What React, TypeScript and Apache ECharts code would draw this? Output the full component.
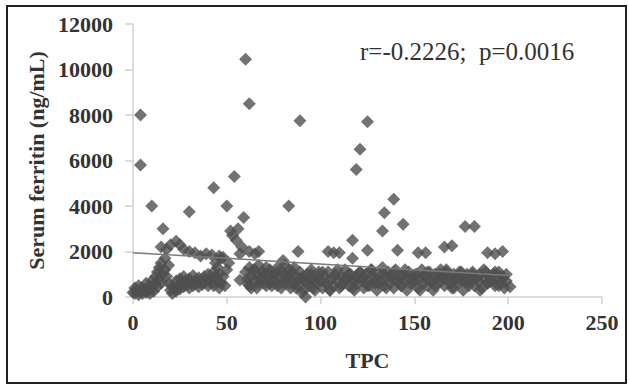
import React, { useEffect, useRef } from "react";
import * as echarts from "echarts";

// Outliers and upper-band points (TPC, ferritin)
const highTPC = [4, 4, 10, 16, 15, 18, 20, 23, 25, 27, 30, 30, 33, 36, 39, 43, 42, 46, 48, 50, 54, 52, 53, 55, 56, 58, 59, 57, 60, 62, 62, 65, 67, 83, 89, 88, 80, 104, 107, 110, 117, 119, 121, 125, 117, 125, 133, 134, 139, 144, 141, 152, 156, 166, 170, 177, 182, 189, 193, 197];
const highFerritin = [8000, 5800, 4000, 3000, 2200, 2100, 2300, 2450, 2300, 2100, 3750, 2000, 1950, 1800, 1900, 4800, 1850, 1800, 1750, 4000, 5300, 2900, 2700, 2500, 3000, 2200, 3500, 1900, 10450, 8500, 2000, 1900, 2000, 4000, 7750, 2000, 1600, 2000, 1950, 1950, 2500, 5600, 6500, 7700, 1700, 2050, 2900, 3700, 4300, 3200, 2050, 1950, 1950, 2200, 2250, 3100, 3100, 1950, 1900, 2000];

// Dense band, TPC 0-60
const lowTPC1 = [0, 1, 1, 2, 3, 3, 4, 5, 5, 6, 7, 7, 8, 9, 9, 10, 10, 11, 12, 12, 13, 13, 14, 14, 15, 15, 16, 17, 17, 18, 19, 19, 20, 21, 21, 22, 23, 23, 24, 25, 25, 26, 27, 27, 28, 29, 30, 30, 31, 32, 32, 33, 34, 35, 35, 36, 37, 38, 38, 39, 40, 40, 41, 42, 43, 43, 44, 44, 45, 45, 46, 46, 47, 47, 48, 49, 50, 51, 57];
const lowFerritin1 = [200, 400, 150, 300, 100, 500, 250, 150, 400, 350, 200, 600, 300, 150, 500, 400, 700, 250, 600, 900, 450, 1100, 800, 1300, 600, 1500, 1000, 1700, 1200, 900, 1400, 600, 300, 150, 500, 400, 250, 700, 500, 350, 800, 600, 450, 900, 700, 550, 800, 400, 650, 950, 500, 700, 600, 850, 450, 700, 550, 900, 650, 750, 500, 1000, 800, 650, 1100, 500, 900, 1500, 700, 1300, 1000, 400, 1700, 600, 900, 500, 1200, 1500, 750];

// Dense band, TPC 60-100
const lowTPC2 = [60, 61, 62, 62, 63, 64, 65, 66, 66, 67, 68, 69, 70, 70, 71, 72, 73, 73, 74, 75, 76, 77, 77, 78, 79, 80, 81, 81, 82, 83, 84, 84, 85, 86, 86, 87, 88, 89, 90, 90, 91, 92, 92, 93, 94, 95, 95, 96, 97, 98, 99];
const lowFerritin2 = [1100, 600, 1300, 500, 900, 1200, 700, 1000, 400, 1400, 800, 1100, 600, 1000, 1300, 900, 1200, 600, 500, 1000, 700, 1300, 500, 900, 1100, 600, 1400, 700, 800, 1200, 1000, 400, 700, 1300, 600, 900, 500, 1100, 800, 200, 300, 700, 0, 1000, 500, 800, 1200, 400, 700, 600, 900];
const lowTPC4 = [61, 63, 65, 67, 69, 71, 73, 75, 77, 79, 81, 83, 85, 87, 89, 91, 93, 95, 97, 99];
const lowFerritin4 = [800, 400, 1200, 600, 900, 500, 1000, 800, 1100, 400, 1000, 600, 1100, 400, 800, 900, 600, 1000, 300, 1100];

// Dense band, TPC 100-200
const lowTPC3 = [100, 101, 102, 103, 104, 105, 106, 107, 108, 109, 110, 111, 112, 113, 114, 115, 116, 117, 118, 119, 120, 121, 122, 123, 124, 125, 126, 127, 128, 129, 130, 131, 132, 133, 134, 135, 136, 137, 138, 139, 140, 141, 142, 143, 144, 145, 146, 147, 148, 149, 150, 151, 152, 153, 154, 155, 156, 157, 158, 159, 160, 161, 162, 163, 164, 165, 166, 167, 168, 169, 170, 171, 172, 173, 174, 175, 176, 177, 178, 179, 180, 181, 182, 183, 184, 185, 186, 187, 188, 189, 190, 191, 192, 193, 194, 195, 196, 197, 198, 199, 201];
const lowFerritin3 = [700, 400, 900, 600, 1100, 300, 800, 500, 1000, 700, 400, 900, 600, 1200, 800, 500, 1000, 700, 300, 900, 600, 1100, 800, 400, 1000, 700, 500, 1200, 900, 600, 300, 1000, 700, 1300, 500, 900, 1100, 600, 800, 400, 1200, 700, 900, 500, 1000, 800, 300, 1100, 600, 900, 700, 1000, 400, 800, 1200, 600, 900, 500, 1100, 700, 300, 1000, 800, 600, 1200, 900, 500, 1100, 700, 900, 400, 1000, 800, 600, 1100, 700, 300, 900, 1000, 600, 800, 1100, 500, 900, 700, 1000, 400, 800, 1100, 600, 900, 700, 1000, 500, 800, 1100, 600, 900, 400, 700, 450];
const lowTPC5 = [101, 103, 105, 107, 109, 111, 113, 115, 117, 119, 121, 123, 125, 127, 129, 131, 133, 135, 137, 139, 141, 143, 145, 147, 149, 151, 153, 155, 157, 159, 161, 163, 165, 167, 169, 171, 173, 175, 177, 179, 181, 183, 185, 187, 189, 191, 193, 195, 197, 199];
const lowFerritin5 = [1100, 600, 300, 900, 1200, 500, 800, 1000, 400, 700, 1100, 900, 500, 1200, 800, 600, 1000, 400, 900, 1100, 700, 500, 1200, 800, 600, 1000, 300, 900, 1100, 700, 500, 1000, 800, 1200, 600, 400, 900, 1100, 700, 500, 1000, 800, 300, 1200, 600, 900, 1100, 500, 800, 1000];

// Trend line
const trendTPC = [0, 200];
const trendFerritin = [1950, 950];

const xTicks = [0, 50, 100, 150, 200, 250];
const yTicks = [0, 2000, 4000, 6000, 8000, 10000, 12000];
const annotation = "r=-0.2226;  p=0.0016";

function pairs(xs: number[], ys: number[]) {
  return xs.map((x, i) => [x, ys[i]]);
}

export default function App() {
  const ref = useRef<HTMLDivElement>(null);
  useEffect(() => {
    if (!ref.current) return;
    const chart = echarts.init(ref.current, null, { renderer: "svg" });
    const points = [
      ...pairs(lowTPC1, lowFerritin1),
      ...pairs(lowTPC2, lowFerritin2),
      ...pairs(lowTPC4, lowFerritin4),
      ...pairs(lowTPC3, lowFerritin3),
      ...pairs(lowTPC5, lowFerritin5),
      ...pairs(highTPC, highFerritin),
    ];
    const serif = "'Liberation Serif', 'Times New Roman', serif";
    const fmt = (v: number) => String(v);
    chart.setOption({
      animation: false,
      backgroundColor: "#ffffff",
      grid: { left: 133, right: 27, top: 24, bottom: 88 },
      xAxis: {
        type: "value",
        min: xTicks[0],
        max: xTicks[xTicks.length - 1],
        interval: 50,
        name: "TPC",
        nameLocation: "middle",
        nameGap: 52,
        nameTextStyle: { fontFamily: serif, fontWeight: "bold", fontSize: 22, color: "#333" },
        axisLine: { show: true, lineStyle: { color: "#d0d0d0", width: 1.5 } },
        axisTick: { show: true, length: 7, lineStyle: { color: "#d0d0d0", width: 1.5 } },
        axisLabel: { fontFamily: serif, fontWeight: "bold", fontSize: 22, color: "#333", margin: 14, formatter: fmt },
        splitLine: { show: false },
      },
      yAxis: {
        type: "value",
        min: yTicks[0],
        max: yTicks[yTicks.length - 1],
        interval: 2000,
        name: "Serum ferritin (ng/mL)",
        nameLocation: "middle",
        nameGap: 86,
        nameTextStyle: { fontFamily: serif, fontWeight: "bold", fontSize: 22, color: "#333" },
        axisLine: { show: true, lineStyle: { color: "#d0d0d0", width: 1.5 } },
        axisTick: { show: true, length: 8, lineStyle: { color: "#d0d0d0", width: 1.5 } },
        axisLabel: { fontFamily: serif, fontWeight: "bold", fontSize: 22, color: "#333", margin: 20, formatter: fmt },
        splitLine: { show: false },
      },
      series: [
        {
          type: "scatter",
          symbol: "diamond",
          symbolSize: 13,
          itemStyle: { color: "#4f4f4f" },
          data: points,
          z: 2,
        },
        {
          type: "line",
          data: pairs(trendTPC, trendFerritin),
          symbol: "none",
          lineStyle: { color: "#7a7a7a", width: 1.5 },
          z: 3,
        },
      ],
      graphic: [
        {
          type: "rect",
          shape: { x: 7, y: 6, width: 619, height: 377 },
          style: { fill: "none", stroke: "#222", lineWidth: 2 },
          silent: true,
        },
        {
          type: "text",
          x: 360,
          y: 39,
          style: { text: annotation, font: `25px ${serif}`, fill: "#333" },
        },
      ],
    });
    return () => chart.dispose();
  }, []);
  return <div ref={ref} style={{ position: "fixed", left: 0, top: 0, width: 629, height: 385 }} />;
}
